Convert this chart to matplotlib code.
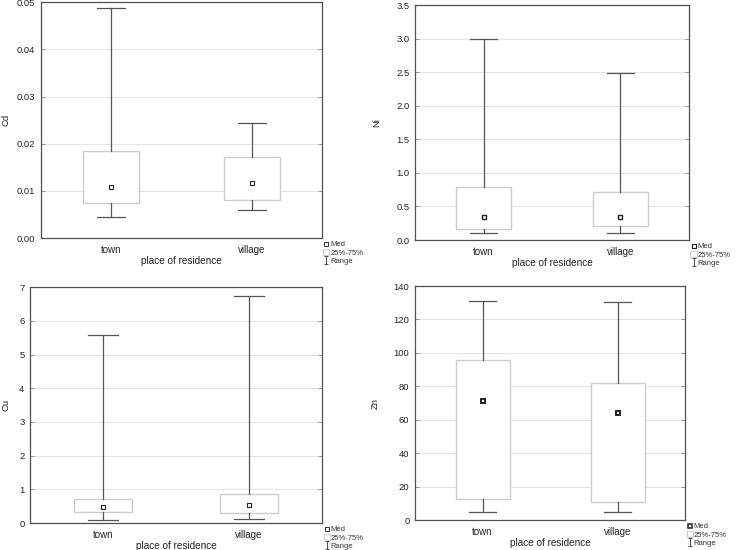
import matplotlib
matplotlib.use("Agg")
import matplotlib.pyplot as plt
from matplotlib.lines import Line2D
from matplotlib.patches import Patch
from matplotlib.path import Path
from matplotlib.ticker import FormatStrFormatter

plt.rcParams['font.family'] = ['Liberation Sans', 'DejaVu Sans']

categories = ["town", "village"]
xlabel = "place of residence"

# per element: min, q1, median, q3, max for town and village
cd_min = [0.0045, 0.0060]
cd_q1 = [0.0074, 0.0081]
cd_med = [0.0109, 0.0117]
cd_q3 = [0.0184, 0.0172]
cd_max = [0.0488, 0.0244]

ni_min = [0.10, 0.11]
ni_q1 = [0.16, 0.21]
ni_med = [0.34, 0.34]
ni_q3 = [0.79, 0.72]
ni_max = [3.00, 2.49]

cu_min = [0.10, 0.11]
cu_q1 = [0.32, 0.30]
cu_med = [0.47, 0.54]
cu_q3 = [0.71, 0.87]
cu_max = [5.58, 6.73]

zn_min = [5.0, 4.6]
zn_q1 = [12.4, 10.6]
zn_med = [71.3, 64.1]
zn_q3 = [95.8, 82.0]
zn_max = [130.8, 130.5]

panels = [
    dict(name="Cd", mn=cd_min, q1=cd_q1, med=cd_med, q3=cd_q3, mx=cd_max,
         ylim=(0, 0.05), ticks=[0, 0.01, 0.02, 0.03, 0.04, 0.05], fmt="%.2f",
         rect=[0.0555, 0.567, 0.380, 0.429], mew=0.8, ylab_x=-0.110),
    dict(name="Ni", mn=ni_min, q1=ni_q1, med=ni_med, q3=ni_q3, mx=ni_max,
         ylim=(0, 3.5), ticks=[0, 0.5, 1.0, 1.5, 2.0, 2.5, 3.0, 3.5], fmt="%.1f",
         rect=[0.5616, 0.5636, 0.3707, 0.4273], mew=1.0, ylab_x=-0.124),
    dict(name="Cu", mn=cu_min, q1=cu_q1, med=cu_med, q3=cu_q3, mx=cu_max,
         ylim=(0, 7), ticks=[0, 1, 2, 3, 4, 5, 6, 7], fmt="%d",
         rect=[0.0406, 0.049, 0.3951, 0.429], mew=0.8, ylab_x=-0.068),
    dict(name="Zn", mn=zn_min, q1=zn_q1, med=zn_med, q3=zn_q3, mx=zn_max,
         ylim=(0, 140), ticks=[0, 20, 40, 60, 80, 100, 120, 140], fmt="%d",
         rect=[0.5616, 0.0545, 0.3654, 0.4255], mew=1.4, ylab_x=-0.130),
]

ibeam = Path([(-0.5, 1), (0.5, 1), (0, 1), (0, -1), (-0.5, -1), (0.5, -1)],
             [Path.MOVETO, Path.LINETO, Path.MOVETO, Path.LINETO, Path.MOVETO, Path.LINETO])

fig = plt.figure(figsize=(7.39, 5.5), dpi=100)
spine_c = "#505050"
box_c = "#cccccc"
wh_c = "#555555"

for p in panels:
    ax = fig.add_axes(p["rect"])
    stats = []
    for i, c in enumerate(categories):
        stats.append(dict(label=c, whislo=p["mn"][i], q1=p["q1"][i], med=p["med"][i],
                          q3=p["q3"][i], whishi=p["mx"][i], mean=p["med"][i], fliers=[]))
    ax.bxp(stats, positions=[0, 1], widths=0.4, capwidths=0.2, showmeans=True,
           showfliers=False, patch_artist=True,
           boxprops=dict(facecolor="white", edgecolor=box_c, linewidth=1.0),
           whiskerprops=dict(color=wh_c, linewidth=0.9),
           capprops=dict(color=wh_c, linewidth=0.9),
           medianprops=dict(visible=False),
           meanprops=dict(marker="s", markersize=3.4, markerfacecolor="white",
                          markeredgecolor="#222222", markeredgewidth=p["mew"]))
    ax.set_xlim(-0.5, 1.5)
    ax.set_ylim(*p["ylim"])
    ax.set_yticks(p["ticks"])
    ax.yaxis.set_major_formatter(FormatStrFormatter(p["fmt"]))
    ax.set_xticks([0, 1])
    ax.set_xticklabels(categories)
    ax.grid(axis="y", color="#e4e4e4", linewidth=0.8)
    ax.set_axisbelow(True)
    for s in ax.spines.values():
        s.set_color(spine_c)
        s.set_linewidth(0.9)
    ax.tick_params(axis="y", direction="in", length=3, width=0.6, color="#888888",
                   labelsize=6.8, labelcolor="#222222", right=True, pad=4)
    ax.tick_params(axis="x", direction="in", length=0, labelsize=7, labelcolor="#222222", pad=5)
    ax.set_xlabel(xlabel, fontsize=7.2, color="#222222", labelpad=1)
    ax.set_ylabel(p["name"], fontsize=6.8, color="#222222")
    ax.yaxis.set_label_coords(p["ylab_x"], 0.5)

    handles = [
        Line2D([], [], linestyle="none", marker="s", markersize=2.8, markerfacecolor="white",
               markeredgecolor="#222222", markeredgewidth=p["mew"] * 0.8),
        Patch(facecolor="white", edgecolor="#d0d0d0", linewidth=0.8),
        Line2D([], [], linestyle="none", marker=ibeam, markersize=6, color="#555555",
               markeredgewidth=0.8),
    ]
    ax.legend(handles, ["Med", "25%-75%", "Range"], loc="upper left",
              bbox_to_anchor=(1.0, -0.005), frameon=False, fontsize=5.5,
              handlelength=0.8, handleheight=0.8, handletextpad=0.15,
              labelspacing=0.1, borderaxespad=0, borderpad=0.2,
              labelcolor="#333333")

fig.savefig("out.png", dpi=100, facecolor="white")
